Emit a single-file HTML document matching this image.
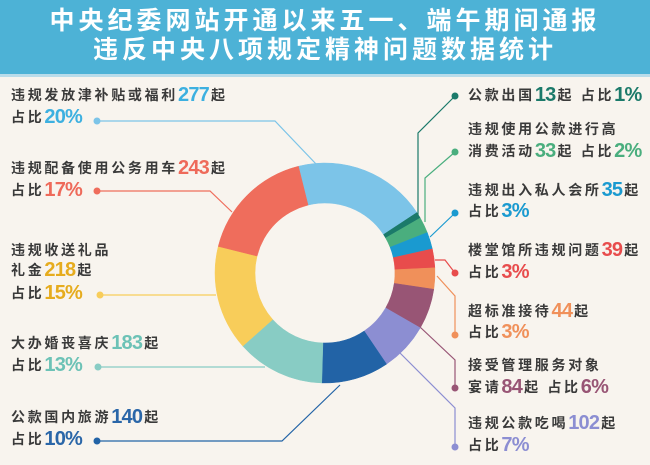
<!DOCTYPE html>
<html><head><meta charset="utf-8">
<style>
body{margin:0;width:650px;height:465px;overflow:hidden;background:#f8f4ee;font-family:"Liberation Sans","Noto Sans CJK SC",sans-serif;position:relative}
.hd{position:absolute;left:0;top:0;width:650px;height:74px;background:#4db2d6;}
.hd2{position:absolute;left:0;top:74px;width:650px;height:3px;background:#b9dcea}
.t{position:absolute;left:0;width:650px;text-align:center;color:#fff;font-weight:bold;font-size:25px;letter-spacing:4px;line-height:30px;font-family:"Noto Sans CJK SC",sans-serif}
.l{position:absolute;height:22px;line-height:22px;font-size:14px;font-weight:bold;letter-spacing:2.7px;color:#3a3a3a;white-space:nowrap;font-family:"Liberation Sans","Noto Sans CJK SC",sans-serif}
.n{font-family:"Liberation Sans",sans-serif;font-size:20px;letter-spacing:-0.8px;margin-right:2px;font-weight:bold;vertical-align:-1px}
svg{position:absolute;left:0;top:0}
</style></head><body>
<div class="hd"></div><div class="hd2"></div>
<div class="t" style="top:4px">中央纪委网站开通以来五一、端午期间通报</div>
<div class="t" style="top:33px">违反中央八项规定精神问题数据统计</div>
<svg width="650" height="465" id="s"></svg>

<div class="l" style="left:11px;top:84px">违规发放津补贴或福利<span class="n" style="color:#3db0e0">277</span>起</div>
<div class="l" style="left:11px;top:106px">占比<span class="n" style="color:#3db0e0">20%</span></div>
<div class="l" style="left:11px;top:157px">违规配备使用公务用车<span class="n" style="color:#ee6a5a">243</span>起</div>
<div class="l" style="left:11px;top:179px">占比<span class="n" style="color:#ee6a5a">17%</span></div>
<div class="l" style="left:11px;top:239px">违规收送礼品</div>
<div class="l" style="left:11px;top:259px">礼金<span class="n" style="color:#e6ac1e">218</span>起</div>
<div class="l" style="left:11px;top:282px">占比<span class="n" style="color:#e6ac1e">15%</span></div>
<div class="l" style="left:11px;top:332px">大办婚丧喜庆<span class="n" style="color:#6cc2b6">183</span>起</div>
<div class="l" style="left:11px;top:354px">占比<span class="n" style="color:#6cc2b6">13%</span></div>
<div class="l" style="left:11px;top:406px">公款国内旅游<span class="n" style="color:#2a66a8">140</span>起</div>
<div class="l" style="left:11px;top:428px">占比<span class="n" style="color:#2a66a8">10%</span></div>

<div class="l" style="left:468px;top:84px">公款出国<span class="n" style="color:#1b7a6a">13</span>起 占比<span class="n" style="color:#1b7a6a">1%</span></div>
<div class="l" style="left:468px;top:118px">违规使用公款进行高</div>
<div class="l" style="left:468px;top:140px">消费活动<span class="n" style="color:#4aae7e">33</span>起 占比<span class="n" style="color:#4aae7e">2%</span></div>
<div class="l" style="left:468px;top:179px">违规出入私人会所<span class="n" style="color:#1a9ad0">35</span>起</div>
<div class="l" style="left:468px;top:200px">占比<span class="n" style="color:#1a9ad0">3%</span></div>
<div class="l" style="left:468px;top:239px">楼堂馆所违规问题<span class="n" style="color:#e84c4c">39</span>起</div>
<div class="l" style="left:468px;top:261px">占比<span class="n" style="color:#e84c4c">3%</span></div>
<div class="l" style="left:468px;top:300px">超标准接待<span class="n" style="color:#f0905a">44</span>起</div>
<div class="l" style="left:468px;top:321px">占比<span class="n" style="color:#f0905a">3%</span></div>
<div class="l" style="left:468px;top:354px">接受管理服务对象</div>
<div class="l" style="left:468px;top:376px">宴请<span class="n" style="color:#985575">84</span>起 占比<span class="n" style="color:#985575">6%</span></div>
<div class="l" style="left:468px;top:412px">违规公款吃喝<span class="n" style="color:#8c8ed2">102</span>起</div>
<div class="l" style="left:468px;top:434px">占比<span class="n" style="color:#8c8ed2">7%</span></div>

<script>
var s=document.getElementById('s'),h='';
var data=[[277,'#7cc4e8'],[13,'#1b7a6a'],[33,'#4aae7e'],[35,'#1a9ad0'],[39,'#e84c4c'],[44,'#f0905a'],[84,'#985575'],[102,'#8c8ed2'],[140,'#2263a6'],[183,'#88ccc4'],[218,'#f8cd5a'],[243,'#ef6d5c']];
var tot=0;data.forEach(function(d){tot+=d[0]});
var cx=325,cy=273,R=110,r=70,a=-14;
function p(ang,rad){var t=ang*Math.PI/180;return [(cx+rad*Math.sin(t)).toFixed(2),(cy-rad*Math.cos(t)).toFixed(2)];}
var lines=[
['#7cc4e8','97,121 275,121 317,165','97,121'],['#ef6d5c','97,191 210,191 232,212','97,191'],['#f8cd5a','100,295 216,295','100,295'],
['#88ccc4','98,367 265,367','98,367'],['#2263a6','97,441 282,441 340,385','97,441'],
['#1b7a6a','455,96 418,133 418,215','455,96'],['#4aae7e','455,152 425,178 425,222','455,152'],['#1a9ad0','455,213 430,237','455,213'],
['#e84c4c','435,260 445,260 455,273','455,273'],['#f0905a','437,276 455,296 455,335','455,335'],['#985575','420,327 455,360 455,388','455,388'],
['#8c8ed2','400,353 455,408 455,447','455,447']];
lines.forEach(function(l){h+='<polyline points="'+l[1]+'" fill="none" stroke="'+l[0]+'" stroke-width="1.2"/>';
var c=l[2].split(',');h+='<circle cx="'+c[0]+'" cy="'+c[1]+'" r="3.5" fill="'+l[0]+'"/>';});
data.forEach(function(d){var b=a+d[0]/tot*360;var la=(b-a)>180?1:0;
var p1=p(a,R),p2=p(b,R),p3=p(b,r),p4=p(a,r);
h+='<path d="M'+p1+' A'+R+' '+R+' 0 '+la+' 1 '+p2+' L'+p3+' A'+r+' '+r+' 0 '+la+' 0 '+p4+'Z" fill="'+d[1]+'" stroke="'+d[1]+'" stroke-width="0.5"/>';a=b;});
s.innerHTML=h;
</script>
</body></html>
